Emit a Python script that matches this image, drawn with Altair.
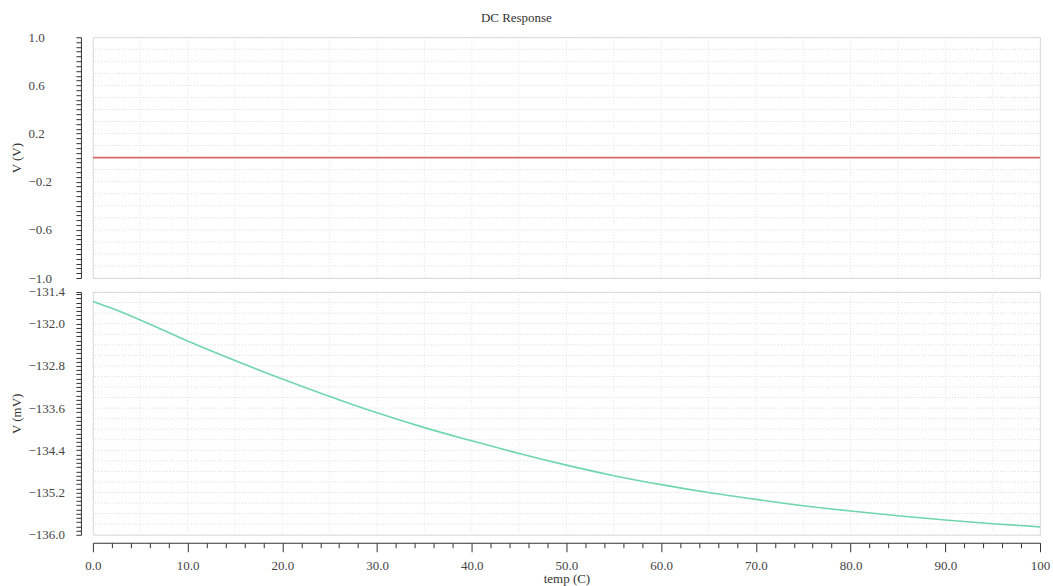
import altair as alt
import pandas as pd

# ---- data ----
temp = [0, 2, 5, 10, 15, 20, 25, 30, 35, 40, 45, 50, 55, 60, 65, 70, 75, 80, 85, 90, 95, 100]
v_mv = [-131.58, -131.71, -131.93, -132.33, -132.70, -133.05, -133.38, -133.69, -133.97,
        -134.22, -134.46, -134.68, -134.88, -135.05, -135.20, -135.33, -135.45, -135.55,
        -135.64, -135.72, -135.79, -135.85]
top_temp = [0, 100]
top_v = [0.0, 0.0]

x_labels = ["0.0", "10.0", "20.0", "30.0", "40.0", "50.0", "60.0", "70.0", "80.0", "90.0", "100"]
top_labels = [1.0, 0.6, 0.2, -0.2, -0.6, -1.0]
bottom_labels = [-131.4, -132.0, -132.8, -133.6, -134.4, -135.2, -136.0]

x_ticks = [i * 2 for i in range(51)]
x_grid = [i * 5 for i in range(21)]
top_ticks = [round(-1 + 0.04 * i, 2) for i in range(51)]
top_grid = [round(-1 + 0.1 * i, 2) for i in range(21)]
bottom_ticks = [round(-136.0 + 0.08 * i, 2) for i in range(58)] + [-131.4]
bottom_grid = [round(-136.0 + 0.2 * i, 2) for i in range(24)]

FONT = "Liberation Serif"
GRID = "#d9d9d9"


def label_expr(vals):
    arr = ",".join(str(v) for v in vals)
    return f"indexof([{arr}], round(datum.value*100)/100) >= 0 ? format(datum.value, '.1f') : ''"


x_lab_arr = ",".join(f"'{s}'" for s in x_labels)
x_scale = alt.Scale(domain=[0, 100], nice=False, zero=False)
x_axis = alt.Axis(
    values=x_ticks,
    labelExpr=f"datum.value % 10 === 0 ? [{x_lab_arr}][datum.value / 10] : ''",
    tickSize={"condition": {"test": "datum.value % 10 === 0", "value": 9}, "value": 5},
    offset=8, grid=False, domainColor="#333", tickColor="#333", labelColor="#444",
    labelFont=FONT, labelFontSize=13, labelPadding=8, title="temp (C)", titleFont=FONT,
    titleFontSize=13, titleFontWeight="normal", titleColor="#333", titlePadding=0,
    labelFlush=False,
)


def y_axis(ticks, labels, title):
    return alt.Axis(
        values=ticks, labelExpr=label_expr(labels), tickSize=5, offset=12, grid=False,
        domainColor="#333", tickColor="#333", labelColor="#444", labelFont=FONT,
        labelFontSize=13, labelAlign="left", labelPadding=48, title=title, titleFont=FONT,
        titleFontSize=13, titleFontWeight="normal", titleColor="#333", titlePadding=4,
        labelFlush=False,
    )


top_scale = alt.Scale(domain=[-1, 1], nice=False, zero=False)
bot_scale = alt.Scale(domain=[-136.0, -131.4], nice=False, zero=False)
top_y_axis = y_axis(top_ticks, top_labels, "V (V)")
bot_y_axis = y_axis(bottom_ticks, bottom_labels, "V (mV)")

W, H1, H2 = 948, 241, 243

# ---- top panel ----
top_df = pd.DataFrame({"temp": top_temp, "v": top_v})
tg_h = alt.Chart(pd.DataFrame({"g": top_grid})).mark_rule(
    color=GRID, strokeDash=[1, 2], strokeWidth=1).encode(
    y=alt.Y("g:Q", scale=top_scale, axis=top_y_axis))
tg_v = alt.Chart(pd.DataFrame({"g": x_grid})).mark_rule(
    color=GRID, strokeDash=[1, 2], strokeWidth=1, opacity=0.7).encode(
    x=alt.X("g:Q", scale=x_scale, axis=None))
top_line = alt.Chart(top_df).mark_line(color="#d46a6a", strokeWidth=1.6).encode(
    x=alt.X("temp:Q", scale=x_scale, axis=None),
    y=alt.Y("v:Q", scale=top_scale, axis=top_y_axis))
top = alt.layer(tg_h, tg_v, top_line).properties(width=W, height=H1)

# ---- bottom panel ----
bot_df = pd.DataFrame({"temp": temp, "v": v_mv})
bg_h = alt.Chart(pd.DataFrame({"g": bottom_grid})).mark_rule(
    color=GRID, strokeDash=[1, 2], strokeWidth=1).encode(
    y=alt.Y("g:Q", scale=bot_scale, axis=bot_y_axis))
bg_v = alt.Chart(pd.DataFrame({"g": x_grid})).mark_rule(
    color=GRID, strokeDash=[1, 2], strokeWidth=1, opacity=0.7).encode(
    x=alt.X("g:Q", scale=x_scale, axis=x_axis))
bot_line = alt.Chart(bot_df).mark_line(color="#6fd6ad", strokeWidth=1.6, interpolate="monotone").encode(
    x=alt.X("temp:Q", scale=x_scale, axis=x_axis),
    y=alt.Y("v:Q", scale=bot_scale, axis=bot_y_axis))
bottom = alt.layer(bg_h, bg_v, bot_line).properties(width=W, height=H2)

chart = alt.vconcat(top, bottom, spacing=14, bounds="flush").properties(
    title=alt.TitleParams("DC Response", font=FONT, fontSize=13, fontWeight="normal",
                          color="#333", anchor="middle", dx=-14, offset=6),
    padding={"left": 10, "top": 11, "right": 2, "bottom": 2},
).configure_view(stroke=None).configure(background="white")

chart.save("out.html", embed_options={"renderer": "svg", "actions": False})
